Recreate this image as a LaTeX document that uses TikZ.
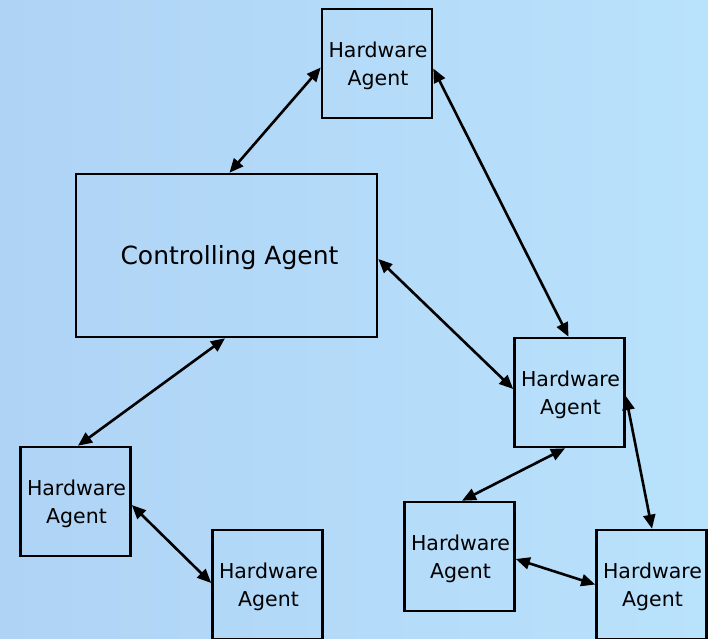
\documentclass[tikz,border=0pt]{standalone}
\usepackage{fontspec}
\setmainfont{DejaVu Sans}
\usetikzlibrary{arrows.meta}
\begin{document}
\begin{tikzpicture}[x=1pt,y=1pt,
  hwbox/.style={draw=black,line width=2.6pt,minimum width=110pt,minimum height=109pt,inner sep=0pt,
    label={[align=center,font=\fontsize{20.5}{28}\selectfont,yshift=-2.5pt,xshift=1pt]center:Hardware\\Agent}},
  ctrlbox/.style={draw=black,line width=2.6pt,minimum width=301pt,minimum height=163pt,inner sep=0pt,
    label={[font=\fontsize{25}{30}\selectfont,yshift=-2.5pt,xshift=3pt]center:Controlling Agent}},
  link/.style={line width=2.6pt,{Triangle[length=14pt,width=12pt]}-{Triangle[length=14pt,width=12pt]}}]
\useasboundingbox (0,0) rectangle (708,-638);
\shade[left color={rgb,255:red,175;green,211;blue,245},right color={rgb,255:red,185;green,226;blue,252}] (0,0) rectangle (708,-638);
\clip (0,0) rectangle (708,-638);
\node[hwbox] (T) at (377,-63.5) {};
\node[ctrlbox] (C) at (226.5,-255.5) {};
\node[hwbox] (R) at (569.5,-392.5) {};
\node[hwbox] (L) at (75.5,-501.5) {};
\node[hwbox] (B1) at (267.5,-584.5) {};
\node[hwbox] (B2) at (459.5,-556.5) {};
\node[hwbox] (B3) at (651.5,-584.5) {};
\draw[link] ([yshift=-4pt]T.west) -- ([xshift=3pt]C.north);
\draw[link] ([yshift=-5pt]T.east) -- ([xshift=-1pt]R.north);
\draw[link] ([yshift=-3.5pt]C.east) -- ([yshift=3.5pt]R.west);
\draw[link] ([xshift=-1.5pt]C.south) -- ([xshift=2.5pt]L.north);
\draw[link] ([yshift=-3.5pt]L.east) -- ([yshift=1.5pt]B1.west);
\draw[link] ([xshift=-4.5pt]R.south) -- ([xshift=2.5pt]B2.north);
\draw[link] ([yshift=-3.5pt]R.east) -- ([xshift=0.5pt]B3.north);
\draw[link] ([yshift=-2.5pt]B2.east) -- (B3.west);
\end{tikzpicture}
\end{document}
